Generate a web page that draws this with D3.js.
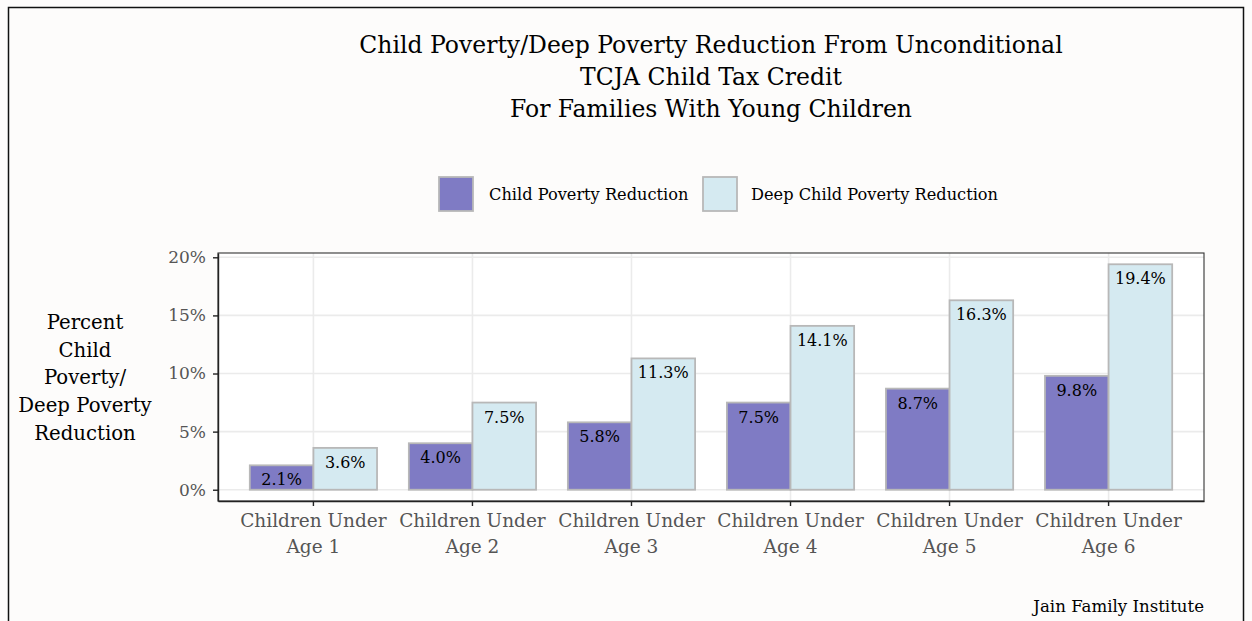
<!DOCTYPE html>
<html><head><meta charset="utf-8">
<script src="https://cdn.jsdelivr.net/npm/d3@7"></script>
<style>
html,body{margin:0;padding:0;background:#fdfcfb;}
svg{display:block;}
text{font-family:"DejaVu Serif",serif;}
</style></head>
<body>
<svg id="chart" width="1252" height="621"></svg>
<script>
const categories = ["Children Under\nAge 1","Children Under\nAge 2","Children Under\nAge 3","Children Under\nAge 4","Children Under\nAge 5","Children Under\nAge 6"];
const seriesNames = ["Child Poverty Reduction","Deep Child Poverty Reduction"];
const childPoverty = [2.1, 4.0, 5.8, 7.5, 8.7, 9.8];
const deepChildPoverty = [3.6, 7.5, 11.3, 14.1, 16.3, 19.4];
const yTicks = [0, 5, 10, 15, 20];
const titleLines = ["Child Poverty/Deep Poverty Reduction From Unconditional","TCJA Child Tax Credit","For Families With Young Children"];
const yTitleLines = ["Percent","Child","Poverty/","Deep Poverty","Reduction"];
const caption = "Jain Family Institute";
const colors = ["#7f7bc4","#d5eaf1"];
const FONT = "'DejaVu Serif',serif";

const svg = d3.select("#chart");
svg.append("rect").attr("x",8.5).attr("y",7.5).attr("width",1235).attr("height",640)
  .attr("fill","#fdfcfb").attr("stroke","#111").attr("stroke-width",1.5);

const P = {l:218, r:1204, t:253, b:501};
const y = d3.scaleLinear().domain([-0.97, 20.37]).range([P.b, P.t]);
const x = d3.scaleBand().domain(categories).range([P.l, P.r]).paddingInner(0.2).paddingOuter(0.2);
const x1 = d3.scaleBand().domain(seriesNames).range([0, x.bandwidth()]);

// panel
svg.append("rect").attr("x",P.l).attr("y",P.t).attr("width",P.r-P.l).attr("height",P.b-P.t).attr("fill","#ffffff");
const grid = svg.append("g");
grid.selectAll("line.h").data(yTicks).join("line")
  .attr("x1",P.l).attr("x2",P.r).attr("y1",d=>y(d)).attr("y2",d=>y(d))
  .attr("stroke","#ebebeb").attr("stroke-width",1.6);
grid.selectAll("line.v").data(categories).join("line")
  .attr("x1",d=>x(d)+x.bandwidth()/2).attr("x2",d=>x(d)+x.bandwidth()/2).attr("y1",P.t).attr("y2",P.b)
  .attr("stroke","#ebebeb").attr("stroke-width",1.6);

// bars
const data = categories.map((c,i)=>({cat:c, vals:[childPoverty[i], deepChildPoverty[i]]}));
const groups = svg.append("g").selectAll("g").data(data).join("g")
  .attr("transform",d=>`translate(${x(d.cat)},0)`);
groups.selectAll("rect").data(d=>d.vals.map((v,j)=>({v, s:seriesNames[j], j}))).join("rect")
  .attr("x",d=>x1(d.s)).attr("width",x1.bandwidth())
  .attr("y",d=>y(d.v)).attr("height",d=>y(0)-y(d.v))
  .attr("fill",d=>colors[d.j]).attr("stroke","#b8b8b8").attr("stroke-width",1.8);
groups.selectAll("text").data(d=>d.vals.map((v,j)=>({v, s:seriesNames[j], j}))).join("text")
  .attr("x",d=>x1(d.s)+x1.bandwidth()/2).attr("y",d=>y(d.v)+20)
  .attr("text-anchor","middle").attr("font-size",16).attr("fill","#000")
  .text(d=>d.v.toFixed(1)+"%");

// panel border
svg.append("rect").attr("x",P.l).attr("y",P.t).attr("width",P.r-P.l).attr("height",P.b-P.t)
  .attr("fill","none").attr("stroke","#333").attr("stroke-width",1.1);

// axes
const yAxis = d3.axisLeft(y).tickValues(yTicks).tickSize(5).tickSizeOuter(0).tickFormat(d=>d+"%");
const gy = svg.append("g").attr("transform",`translate(${P.l},0)`).call(yAxis);
gy.select(".domain").attr("stroke","#222").attr("stroke-width",1.4);
gy.selectAll(".tick line").attr("stroke","#222").attr("stroke-width",1.4);
gy.selectAll(".tick text").attr("font-size",17).attr("fill","#555").attr("x",-12)
  .attr("font-family",FONT);

const xAxis = d3.axisBottom(x).tickSize(5).tickSizeOuter(0).tickFormat("");
const gx = svg.append("g").attr("transform",`translate(0,${P.b})`).call(xAxis);
gx.select(".domain").attr("stroke","#222").attr("stroke-width",1.4);
gx.selectAll(".tick line").attr("stroke","#222").attr("stroke-width",1.4);
gx.selectAll(".tick").each(function(d){
  const lines = d.split("\n");
  const t = d3.select(this).append("text").attr("text-anchor","middle").attr("fill","#555")
    .attr("font-size",18.5).attr("font-family",FONT);
  lines.forEach((ln,i)=>t.append("tspan").attr("x",0).attr("y",26+i*26).text(ln));
});

// title
svg.append("g").selectAll("text").data(titleLines).join("text")
  .attr("x",711).attr("y",(d,i)=>53+i*32).attr("text-anchor","middle")
  .attr("font-size",23.5).attr("fill","#000").text(d=>d);

// y title
svg.append("g").selectAll("text").data(yTitleLines).join("text")
  .attr("x",85).attr("y",(d,i)=>329+i*27.7).attr("text-anchor","middle")
  .attr("font-size",19.7).attr("fill","#000").text(d=>d);

// legend
const leg = svg.append("g");
const legX = [439, 703], legTX = [489, 751];
seriesNames.forEach((s,i)=>{
  leg.append("rect").attr("x",legX[i]).attr("y",177).attr("width",34).attr("height",34)
    .attr("fill",colors[i]).attr("stroke","#b8b8b8").attr("stroke-width",1.8);
  leg.append("text").attr("x",legTX[i]).attr("y",200).attr("font-size",16.2).attr("fill","#000").text(s);
});

// caption
svg.append("text").attr("x",1204).attr("y",612).attr("text-anchor","end")
  .attr("font-size",16.6).attr("fill","#000").text(caption);
</script>
</body></html>
